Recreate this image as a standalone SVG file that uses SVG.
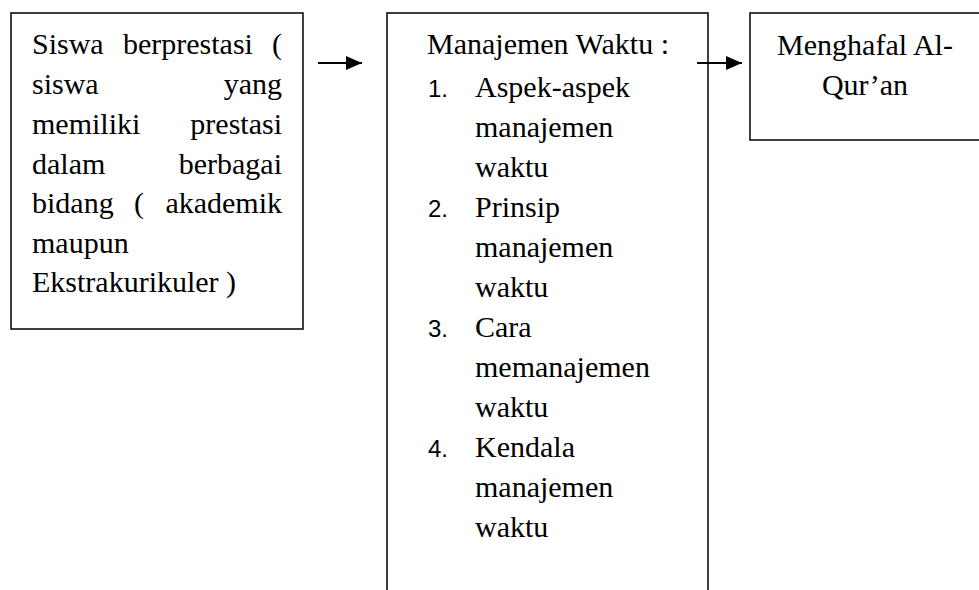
<svg xmlns="http://www.w3.org/2000/svg" width="979" height="590" viewBox="0 0 979 590">
<style>
.box{fill:#fff;stroke:#000;stroke-width:1.5}
.t{font-family:"Liberation Serif","Times New Roman",serif;font-size:30px;fill:#000}
.n{font-family:"Liberation Sans",Arial,sans-serif;font-size:24px;fill:#000}
.e{text-anchor:end}
.m{text-anchor:middle}
.conn{stroke:#000;stroke-width:2;fill:none}
</style>
<defs>
<marker id="ah" markerWidth="8" markerHeight="7" refX="8" refY="3.5" orient="auto" markerUnits="strokeWidth">
<path d="M0,0 L8,3.5 L0,7 Z" fill="#000"/>
</marker>
</defs>
<rect width="979" height="590" fill="#fff"/>
<g id="node-siswa">
<rect class="box" x="11" y="13" width="292" height="316"/>
<text class="t" x="32" y="54">Siswa</text>
<text class="t" x="123" y="54">berprestasi</text>
<text class="t e" x="282" y="54">(</text>
<text class="t" x="32" y="94">siswa</text>
<text class="t e" x="282" y="94">yang</text>
<text class="t" x="32" y="134">memiliki</text>
<text class="t e" x="282" y="134">prestasi</text>
<text class="t" x="32" y="174">dalam</text>
<text class="t e" x="282" y="174">berbagai</text>
<text class="t" x="32" y="213">bidang</text>
<text class="t" x="134" y="213">(</text>
<text class="t e" x="282" y="213">akademik</text>
<text class="t" x="32" y="253">maupun</text>
<text class="t" x="32" y="292">Ekstrakurikuler )</text>
</g>
<g id="node-manajemen">
<rect class="box" x="387" y="13" width="321" height="600"/>
<text class="t" x="427" y="54">Manajemen Waktu :</text>
<text class="n" x="428" y="97">1.</text>
<text class="t" x="475" y="97">Aspek-aspek</text>
<text class="t" x="475" y="137">manajemen</text>
<text class="t" x="475" y="177">waktu</text>
<text class="n" x="428" y="217">2.</text>
<text class="t" x="475" y="217">Prinsip</text>
<text class="t" x="475" y="257">manajemen</text>
<text class="t" x="475" y="297">waktu</text>
<text class="n" x="428" y="337">3.</text>
<text class="t" x="475" y="337">Cara</text>
<text class="t" x="475" y="377">memanajemen</text>
<text class="t" x="475" y="417">waktu</text>
<text class="n" x="428" y="457">4.</text>
<text class="t" x="475" y="457">Kendala</text>
<text class="t" x="475" y="497">manajemen</text>
<text class="t" x="475" y="537">waktu</text>
</g>
<g id="node-menghafal">
<rect class="box" x="750" y="13" width="250" height="127"/>
<text class="t m" x="865" y="55">Menghafal Al-</text>
<text class="t m" x="865" y="95">Qur’an</text>
</g>
<g id="connectors">
<line class="conn" x1="318" y1="63" x2="362" y2="63" marker-end="url(#ah)"/>
<line class="conn" x1="697" y1="63" x2="742" y2="63" marker-end="url(#ah)"/>
</g>
</svg>
